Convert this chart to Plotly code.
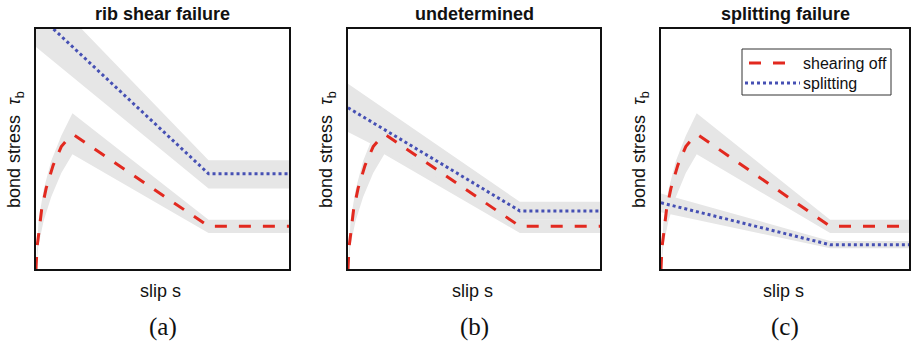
import plotly.graph_objects as go

# ---------------- data (normalised slip s, normalised bond stress tau_b) ----------------
panel_titles = ["rib shear failure", "undetermined", "splitting failure"]
panel_letters = ["(a)", "(b)", "(c)"]
series_names = ["shearing off", "splitting"]

# shearing off curve (same in all three panels)
shear_s   = [0.0, 0.004, 0.010, 0.022, 0.040, 0.068, 0.100, 0.128, 0.152, 0.682, 1.0]
shear_tau = [0.0, 0.090, 0.140, 0.246, 0.336, 0.433, 0.510, 0.545, 0.557, 0.178, 0.178]
# scatter band of shearing off
shear_band_s     = [0.0, 0.010, 0.030, 0.060, 0.100, 0.144, 0.682, 1.0]
shear_band_upper = [0.0, 0.200, 0.330, 0.450, 0.555, 0.649, 0.205, 0.205]
shear_band_lower = [0.0, 0.100, 0.200, 0.300, 0.400, 0.478, 0.150, 0.150]

# splitting curves per panel
split_s = [0.0, 0.682, 1.0]
split_tau_a = [1.068, 0.397, 0.397]
split_tau_b = [0.672, 0.242, 0.242]
split_tau_c = [0.276, 0.101, 0.101]
split_upper_a = [1.197, 0.453, 0.453]
split_lower_a = [0.925, 0.335, 0.335]
split_upper_b = [0.772, 0.280, 0.280]
split_lower_b = [0.571, 0.205, 0.205]
split_upper_c = [0.315, 0.117, 0.117]
split_lower_c = [0.236, 0.086, 0.086]

split_tau = [split_tau_a, split_tau_b, split_tau_c]
split_upper = [split_upper_a, split_upper_b, split_upper_c]
split_lower = [split_lower_a, split_lower_b, split_lower_c]

# ---------------- styling ----------------
W, H = 912, 345
RED = "#e2291f"
BLUE = "#4650b4"
BAND = "#e6e6e6"
FONT = "Liberation Sans, Arial, sans-serif"
RED_DASH = "12px,12px"
BLUE_DASH = "3px,3px"

def px(x):
    return x / W

def py(y):
    return 1 - y / H

panel_px = [(36, 289), (348, 600), (661, 909)]
top_px, bot_px = 29, 269

fig = go.Figure()

for i in range(3):
    ax = "" if i == 0 else str(i + 1)
    xa, ya = "x" + ax, "y" + ax
    # bands
    fig.add_trace(go.Scatter(
        x=shear_band_s + shear_band_s[::-1],
        y=shear_band_upper + shear_band_lower[::-1],
        fill="toself", fillcolor=BAND, line=dict(width=0), mode="lines",
        hoverinfo="skip", showlegend=False, xaxis=xa, yaxis=ya))
    fig.add_trace(go.Scatter(
        x=split_s + split_s[::-1],
        y=split_upper[i] + split_lower[i][::-1],
        fill="toself", fillcolor=BAND, line=dict(width=0), mode="lines",
        hoverinfo="skip", showlegend=False, xaxis=xa, yaxis=ya))
    # lines
    fig.add_trace(go.Scatter(
        x=shear_s, y=shear_tau, mode="lines", name=series_names[0],
        line=dict(color=RED, width=3, dash=RED_DASH),
        showlegend=False, xaxis=xa, yaxis=ya))
    fig.add_trace(go.Scatter(
        x=split_s, y=split_tau[i], mode="lines", name=series_names[1],
        line=dict(color=BLUE, width=3, dash=BLUE_DASH),
        showlegend=False, xaxis=xa, yaxis=ya))

    x0, x1 = panel_px[i]
    axis_common = dict(range=[0, 1], showgrid=False, zeroline=False, showticklabels=False,
                       ticks="", showline=True, mirror=True, linecolor="#111111", linewidth=2,
                       fixedrange=True)
    fig.update_layout(**{
        "xaxis" + ax: dict(domain=[px(x0), px(x1)], anchor=ya, **axis_common),
        "yaxis" + ax: dict(domain=[py(bot_px), py(top_px)], anchor=xa, **axis_common),
    })

    cx = (x0 + x1) / 2
    fig.add_annotation(x=px(cx), y=py(14), xref="paper", yref="paper",
                       text="<b>" + panel_titles[i] + "</b>", showarrow=False,
                       font=dict(family=FONT, size=18, color="#111"),
                       xanchor="center", yanchor="middle")
    fig.add_annotation(x=px(cx - 2), y=py(291), xref="paper", yref="paper",
                       text="slip s", showarrow=False,
                       font=dict(family=FONT, size=18, color="#111"),
                       xanchor="center", yanchor="middle")
    fig.add_annotation(x=px(cx), y=py(327), xref="paper", yref="paper",
                       text=panel_letters[i], showarrow=False,
                       font=dict(family="Liberation Serif, Times New Roman, serif", size=25, color="#111"),
                       xanchor="center", yanchor="middle")
    fig.add_annotation(x=px(x0 - 20), y=py(150), xref="paper", yref="paper",
                       text="bond stress  <i>τ</i><sub>b</sub>", showarrow=False, textangle=-90,
                       font=dict(family=FONT, size=18, color="#111"),
                       xanchor="center", yanchor="middle")

# legend (panel c)
fig.add_shape(type="rect", xref="paper", yref="paper",
              x0=px(742), x1=px(891), y0=py(95), y1=py(49),
              line=dict(color="#333", width=1), fillcolor="white")
fig.add_shape(type="line", xref="paper", yref="paper",
              x0=px(749), x1=px(797), y0=py(63), y1=py(63),
              line=dict(color=RED, width=3, dash=RED_DASH))
fig.add_shape(type="line", xref="paper", yref="paper",
              x0=px(745), x1=px(800), y0=py(83), y1=py(83),
              line=dict(color=BLUE, width=3, dash=BLUE_DASH))
for name, yy in zip(series_names, [63, 83]):
    fig.add_annotation(x=px(801), y=py(yy), xref="paper", yref="paper",
                       text=name, showarrow=False, xanchor="left", yanchor="middle",
                       font=dict(family=FONT, size=16, color="#111"))

fig.update_layout(width=W, height=H, margin=dict(l=0, r=0, t=0, b=0),
                  paper_bgcolor="white", plot_bgcolor="white", showlegend=False)

fig.write_html("out.html")
